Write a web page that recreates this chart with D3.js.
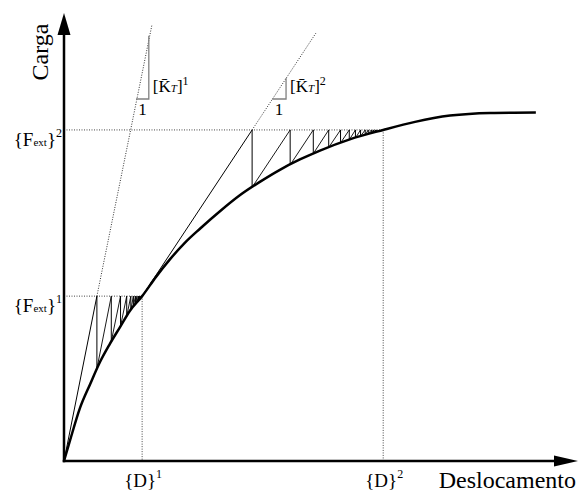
<!DOCTYPE html>
<html>
<head>
<meta charset="utf-8">
<script src="https://cdn.jsdelivr.net/npm/d3@7"></script>
<style>
  body { margin: 0; background: #fff; }
  text { font-family: "Liberation Serif", "Times New Roman", Times, "DejaVu Serif", serif; }
</style>
</head>
<body>
<svg width="579" height="493"></svg>
<script>
// load-displacement curve (displacement, load)
const curveD = [0, 0.12, 0.31, 0.51, 0.70, 0.89, 1.09, 1.28, 1.52, 1.79, 2.06, 2.35, 2.65, 3.04, 3.42, 3.81, 4.20, 4.59, 4.98, 5.56, 6.21, 6.83, 7.51, 8.29, 9.18];
const curveF = [0, 0.47, 1.18, 1.72, 2.21, 2.61, 2.99, 3.35, 3.68, 4.11, 4.50, 4.87, 5.19, 5.58, 5.93, 6.23, 6.50, 6.73, 6.93, 7.18, 7.39, 7.57, 7.71, 7.77, 7.78];

// load steps and converged displacements
const stepNames = ["1", "2"];
const loadLevels = [3.68, 7.39];
const dispLevels = [1.52, 6.21];

// iterations of each step: displacement and internal force back on the curve
const iterD1 = [0.64, 0.92, 1.10, 1.22, 1.30, 1.35, 1.39, 1.42, 1.45, 1.465, 1.48];
const iterF1 = [2.06, 2.67, 3.01, 3.23, 3.37, 3.45, 3.50, 3.55, 3.58, 3.61, 3.63];
const iterD2 = [3.66, 4.40, 4.85, 5.15, 5.38, 5.55, 5.67, 5.77, 5.86, 5.92, 5.98, 6.02, 6.06, 6.09];
const iterF2 = [6.11, 6.61, 6.86, 7.00, 7.10, 7.17, 7.21, 7.25, 7.28, 7.30, 7.32, 7.33, 7.34, 7.35];

// tangent stiffness lines: start point and end of dotted extension
const tangentStart = [[0, 0], [1.52, 3.68]];
const tangentEnd = [[1.71, 9.73], [4.90, 9.55]];

// slope triangles: [d left, d right, f bottom, f top]
const slopeTri = [[1.40, 1.65, 8.08, 9.49], [4.05, 4.32, 8.08, 8.55]];

const steps = [
  {iterD: iterD1, iterF: iterF1},
  {iterD: iterD2, iterF: iterF2}
];

const svg = d3.select("svg");

const x = d3.scaleLinear().domain([0, 10]).range([64, 578]);
const y = d3.scaleLinear().domain([0, 10]).range([461, 13]);

const line = d3.line().x(d => x(d[0])).y(d => y(d[1]));

function seg(a, b) {
  return svg.append("path").attr("d", line([a, b])).attr("fill", "none");
}

// dotted guide lines for the converged points
loadLevels.forEach((F, k) => {
  const D = dispLevels[k];
  seg([0, F], [D, F]).attr("stroke", "#444").attr("stroke-width", 1).attr("stroke-dasharray", "1,1.5");
  seg([D, F], [D, 0]).attr("stroke", "#444").attr("stroke-width", 1).attr("stroke-dasharray", "1,1.5");
});

// tangents and iterations
steps.forEach((s, k) => {
  const F = loadLevels[k], D = dispLevels[k];
  seg(tangentStart[k], [s.iterD[0], F]).attr("stroke", "#000").attr("stroke-width", 1);
  seg([s.iterD[0], F], tangentEnd[k]).attr("stroke", "#333").attr("stroke-width", 1).attr("stroke-dasharray", "1,1.5");
  s.iterD.forEach((d, i) => {
    seg([d, F], [d, s.iterF[i]]).attr("stroke", "#000").attr("stroke-width", 1);
    const next = i + 1 < s.iterD.length ? s.iterD[i + 1] : D;
    seg([d, s.iterF[i]], [next, F]).attr("stroke", "#000").attr("stroke-width", 0.9);
  });
});

// slope triangles
slopeTri.forEach(t => {
  svg.append("path")
    .attr("d", line([[t[0], t[2]], [t[1], t[2]], [t[1], t[3]]]))
    .attr("fill", "none").attr("stroke", "#808080").attr("stroke-width", 1.3);
});

// equilibrium curve
const curveLine = d3.line().x(d => x(d[0])).y(d => y(d[1])).curve(d3.curveMonotoneX);
svg.append("path")
  .datum(curveD.map((d, i) => [d, curveF[i]]))
  .attr("fill", "none")
  .attr("stroke", "#000")
  .attr("stroke-width", 2.5)
  .attr("d", curveLine);

// axes with arrows
svg.append("line")
  .attr("x1", x(0)).attr("y1", y(0)).attr("x2", x(10) - 12).attr("y2", y(0))
  .attr("stroke", "#000").attr("stroke-width", 2.5).attr("stroke-linecap", "square");
svg.append("line")
  .attr("x1", x(0)).attr("y1", y(0)).attr("x2", x(0)).attr("y2", y(10) + 12)
  .attr("stroke", "#000").attr("stroke-width", 2.5).attr("stroke-linecap", "square");
svg.append("path")
  .attr("d", `M${x(10)},${y(0)}L${x(10) - 24},${y(0) - 5.5}L${x(10) - 24},${y(0) + 5.5}Z`);
svg.append("path")
  .attr("d", `M${x(0)},${y(10)}L${x(0) - 6.5},${y(10) + 22}L${x(0) + 6.5},${y(10) + 22}Z`);

// axis titles
svg.append("text")
  .attr("transform", "translate(48,52) rotate(-90)")
  .attr("text-anchor", "middle")
  .style("font-size", "24px")
  .text("Carga");
svg.append("text")
  .attr("x", 576).attr("y", 488)
  .attr("text-anchor", "end")
  .style("font-size", "24px")
  .text("Deslocamento");

// load level labels {Fext}^n
loadLevels.forEach((F, k) => {
  const t = svg.append("text")
    .attr("x", 62).attr("y", y(F) + 16)
    .attr("text-anchor", "end")
    .style("font-size", "19px");
  t.append("tspan").text("{F");
  t.append("tspan").style("font-size", "11px").text("ext");
  t.append("tspan").text("}");
  t.append("tspan").style("font-size", "12px").attr("dy", -9).text(stepNames[k]);
});

// displacement labels {D}^n
dispLevels.forEach((D, k) => {
  const t = svg.append("text")
    .attr("x", x(D) + 1).attr("y", 487)
    .attr("text-anchor", "middle")
    .style("font-size", "19px");
  t.append("tspan").text("{D}");
  t.append("tspan").style("font-size", "12px").attr("dy", -9).text(stepNames[k]);
});

// stiffness labels
slopeTri.forEach((tr, k) => {
  svg.append("text")
    .attr("x", (x(tr[0]) + x(tr[1])) / 2).attr("y", y(tr[2]) + 16)
    .attr("text-anchor", "middle")
    .style("font-size", "17px")
    .text("1");
  const t = svg.append("text")
    .attr("x", x(tr[1]) + 4).attr("y", y(tr[2]) - 7)
    .style("font-size", "17px");
  t.append("tspan").text("[K\u0304");
  t.append("tspan").style("font-size", "11px").style("font-style", "italic").text("T");
  t.append("tspan").text("]");
  t.append("tspan").style("font-size", "12px").attr("dy", -7).text(stepNames[k]);
});
</script>
</body>
</html>
